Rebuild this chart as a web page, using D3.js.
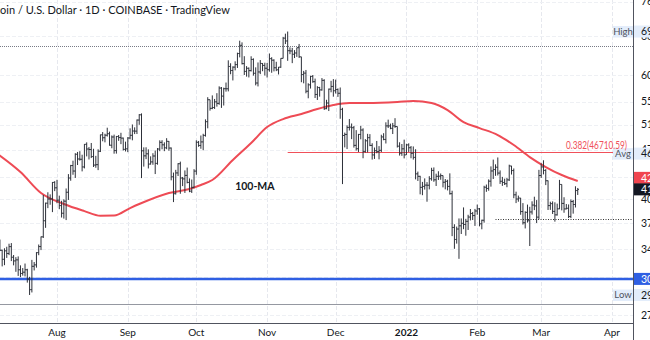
<!DOCTYPE html>
<html><head><meta charset="utf-8">
<script src="https://cdn.jsdelivr.net/npm/d3@7"></script>
<style>html,body{margin:0;padding:0;background:#fff;overflow:hidden}svg{display:block}</style>
</head><body><svg id="c" width="650" height="340"></svg>
<script>
// ---- data (BTC/USD daily, Coinbase) ----
const startDate = "2021-07-07";
const firstOpen = 34230;
const closes = [
33860,32880,33800,33510,34260,33100,32710,32820,31780,31400,31530,31780,30830,29790,32140,32290,33600,34270,35370,37270,39460,40000,40010,42230,41490,
39850,39150,38190,39720,40890,42840,44620,43830,46300,45590,45550,44420,47830,47100,47030,45950,44690,44750,46760,49340,48870,49280,49520,47690,48990,46860,49070,48900,48810,47050,47130,
48830,49260,49960,49940,51780,52680,46830,46060,46370,44840,45160,46040,44940,47100,48140,47750,47290,48300,47250,43010,40700,43560,44890,42840,42720,43210,42230,41040,41550,43820,
48150,47650,48210,49250,51510,55340,53800,53950,54960,54680,57490,56000,57370,57360,61670,60880,61540,62040,64290,66010,62230,60700,61310,60850,63080,60330,58450,60590,62270,61880,61320,
61030,63240,62930,61410,61010,61530,63300,67550,66940,64880,64820,64140,64400,65500,63610,60090,60360,56900,58100,59730,58700,56300,57580,57150,58960,53740,54750,57290,57800,56990,
57230,56520,53630,49230,49400,50550,50600,50500,47670,47150,49400,50120,46740,48390,48880,47660,46200,46850,46700,46900,49000,48600,50800,50800,50400,50800,50700,47540,46460,47130,46210,
47740,47300,46450,45830,43430,43080,41550,41680,41860,41840,42740,43920,42590,43080,43100,43180,42250,42380,41680,40700,36470,35070,36280,36660,36960,36820,37200,37720,38160,37900,38470,
38740,36900,37330,41570,41400,42400,43840,44040,44380,43540,42390,42220,42050,42580,44560,43900,40550,40000,40120,38400,37030,38300,37270,38350,39220,39120,37710,43190,
44420,43920,42460,39150,39400,38420,37990,38740,41950,39430,38730,38810,37790,39670,39290,41120,41280];
const highs = [
35060,33920,34080,34250,34590,34660,33340,33110,33190,32240,31960,32430,31880,31060,32820,32590,33650,34500,35410,40540,39530,40890,40610,42280,42400,
42590,40440,39770,39960,41400,43390,44720,45340,46460,46650,46770,46230,47870,48140,47400,48040,47140,46060,47060,49380,49790,49520,50500,49860,49240,49370,49160,49310,49670,48900,48250,
48970,50400,51040,50560,51880,52790,52920,47360,47370,47050,45990,46460,46870,47250,48460,48480,48140,48800,48350,47340,43610,44000,44970,45200,42990,43920,44330,42790,42630,44100,
48460,48360,49230,49510,51900,55800,55340,56130,55480,56540,57820,57690,57570,58540,62900,62310,61700,62700,64470,67000,66640,63740,61740,61480,63720,63300,61490,62470,62950,62350,62420,
62370,64300,63530,63110,62600,61570,63320,67790,68530,69000,65580,65470,65000,65500,66300,63620,60800,60980,58400,59850,60000,59300,57850,57720,59400,59170,55330,57400,58870,59200,
59100,57420,57600,53900,49700,50900,51950,51200,50790,50100,49490,50800,50400,48660,49500,49450,48000,47330,48360,47550,49350,49600,51400,51850,51180,51300,52100,50700,48150,47880,48570,
47920,47990,47570,47500,47070,43750,43150,42300,42790,42270,43100,44300,44350,43450,43800,43480,43200,42700,42600,43500,41100,36850,36570,37550,37550,38920,37500,38000,38720,38350,38730,
39280,38850,37400,41770,41940,42650,44500,45500,44800,45820,43920,43000,42750,42850,44750,44580,44200,40970,40450,40140,39470,38430,39280,39000,39700,40300,39860,44000,
44950,45400,44100,42500,39650,39690,39570,39400,42580,41950,40230,39350,39300,39940,39870,41700,41470];
const lows = [
33770,32130,32260,33030,33330,32690,32240,31570,31150,31030,31180,31100,30480,29280,29520,31710,32000,33320,33880,35240,36420,38830,39260,38330,41040,
39450,38700,37660,37530,37350,39880,42460,43300,42850,44700,45350,43780,44210,45980,45520,45730,44410,44300,43960,46640,48310,48140,49060,47620,47220,46390,46400,48380,47860,46880,46730,
46620,48620,48460,49460,49470,50980,42830,44470,45570,44200,44770,44740,43400,44750,46770,47060,46770,47070,46840,42520,39600,40590,43120,40690,41720,40800,42100,40900,40800,41420,
43300,47440,47140,46910,49050,50400,53400,53650,53700,54100,54430,53880,54300,56820,56870,60140,58940,60900,61370,63500,62070,60000,59680,59520,60680,59880,58000,57800,60170,60730,59900,
59500,60640,60430,60700,60750,60100,61400,63290,66280,62800,64160,62330,63360,63600,63400,58600,58390,56510,55600,57400,58500,55650,55300,55900,57000,53530,53650,53330,56700,55890,
56470,55850,52000,42000,47350,47100,50040,48650,47320,46870,46650,48620,45700,46550,46580,47540,45500,45600,46450,45540,46640,48470,47960,50450,50250,49470,50470,47330,46100,46060,45680,
46200,46650,45700,45500,42650,42430,40610,40500,41250,39650,41280,42470,42320,41740,42570,42600,41550,41280,41140,40580,35450,34020,34600,32930,35700,36260,35500,36170,37310,37360,36650,
38000,36600,36250,37040,40950,41100,41650,42700,43150,43200,42020,41750,41870,41570,42430,43330,40100,39470,39650,38000,36810,36350,37050,34330,38030,38580,37000,37450,
42850,43350,41860,38600,38610,38100,37160,37900,38700,38550,38250,38670,37600,37590,38140,38910,40530];

// 100-day moving average
const maDates = ["2021-07-05","2021-07-16","2021-07-25","2021-08-04","2021-08-13","2021-08-20","2021-08-26","2021-09-02","2021-09-06","2021-09-19","2021-09-28","2021-10-03","2021-10-08","2021-10-17","2021-10-25","2021-11-01","2021-11-08","2021-11-16","2021-11-23","2021-11-30","2021-12-07","2021-12-15","2021-12-28","2022-01-04","2022-01-12","2022-01-19","2022-01-26","2022-02-02","2022-02-10","2022-02-17","2022-02-24","2022-03-03","2022-03-10","2022-03-17"];
const maValues = [46600,43690,40790,39350,38460,37880,37900,38840,39350,40790,41330,41870,42560,45440,48030,50610,51950,52810,53680,54380,54740,54740,54920,55100,54740,53500,51440,50440,49300,47720,45880,44410,43260,42420];

const monthTicks = ["2021-08-01","2021-09-01","2021-10-01","2021-11-01","2021-12-01","2022-01-01","2022-02-01","2022-03-01","2022-04-01"];
const monthLabels = ["Aug","Sep","Oct","Nov","Dec","2022","Feb","Mar","Apr"];
const priceTicks = [76000,68000,60000,55000,51000,47000,43000,40000,37000,34000,31000,27000];

const highLevel = 69000, lowLevel = 29278, avgLevel = 46400;
const fibLevel = 46710.59, fibLabel = "0.382(46710.59)", fibStart = "2021-11-10";
const topDotted = 65800, supportDotted = 37470, supportStart = "2022-02-09";
const blueLevel = 30850, bottomLevel = 28220;
const titleText = "Bitcoin / U.S. Dollar · 1D · COINBASE · TradingView";
const maLabel = "100-MA", maLabelDate = "2021-10-18", maLabelValue = 41190;

// ---- layout ----
const W = 650, H = 340, plotR = 633, plotB = 323;
const parse = d3.utcParse("%Y-%m-%d");
const days = d3.utcDay.range(parse(startDate), d3.utcDay.offset(parse(startDate), closes.length));
const bars = days.map((d, i) => ({d, o: i ? closes[i-1] : firstOpen, h: highs[i], l: lows[i], c: closes[i]}));

const x = d3.scaleUtc().domain([parse("2021-08-01"), parse("2022-04-01")]).range([57, 612]);
const y = d3.scaleLog().domain([27000, 29278, 40000, 60000, 76000]).range([315, 295, 199, 75, 1.5]);

const svg = d3.select("#c");
const FONT = "Lato, 'Liberation Sans', sans-serif";
svg.append("rect").attr("width", W).attr("height", H).attr("fill", "#fff");
svg.append("defs").append("clipPath").attr("id", "pc").append("rect").attr("x", 0).attr("y", 0).attr("width", plotR).attr("height", plotB);
const plot = svg.append("g").attr("clip-path", "url(#pc)");

// grid
plot.selectAll(".vg").data(monthTicks).join("line")
  .attr("x1", d => Math.round(x(parse(d))) + 0.5).attr("x2", d => Math.round(x(parse(d))) + 0.5)
  .attr("y1", 0).attr("y2", plotB).attr("stroke", "#e6e8ee").attr("stroke-dasharray", "4,2");
plot.selectAll(".hg").data(priceTicks).join("line")
  .attr("x1", 0).attr("x2", plotR).attr("y1", d => Math.round(y(d)) + 0.5).attr("y2", d => Math.round(y(d)) + 0.5)
  .attr("stroke", "#eef0f4").attr("stroke-dasharray", "4,2");

// title
plot.append("text").attr("x", 230).attr("y", 14).attr("text-anchor", "end")
  .attr("font-family", FONT).attr("font-size", 11).attr("fill", "#131722").text(titleText);

// horizontal levels
const hy = v => Math.round(y(v)) + 0.5;
plot.append("line").attr("x1", 0).attr("x2", plotR).attr("y1", hy(topDotted)).attr("y2", hy(topDotted))
  .attr("stroke", "#787b86").attr("stroke-dasharray", "1,1");
plot.append("line").attr("x1", x(parse(supportStart))).attr("x2", plotR).attr("y1", hy(supportDotted)).attr("y2", hy(supportDotted))
  .attr("stroke", "#333").attr("stroke-dasharray", "1,1.5");
plot.append("line").attr("x1", 0).attr("x2", plotR).attr("y1", hy(bottomLevel)).attr("y2", hy(bottomLevel))
  .attr("stroke", "#9598a1");
plot.append("line").attr("x1", x(parse(fibStart))).attr("x2", plotR).attr("y1", hy(fibLevel)).attr("y2", hy(fibLevel))
  .attr("stroke", "#f0505a");
plot.append("line").attr("x1", 0).attr("x2", plotR).attr("y1", y(blueLevel)).attr("y2", y(blueLevel))
  .attr("stroke", "#2f5fe3").attr("stroke-width", 2.5);

// MA line
const maPts = maDates.map((d, i) => [x(parse(d)), y(maValues[i])]);
plot.append("path").attr("d", d3.line().curve(d3.curveMonotoneX)(maPts))
  .attr("fill", "none").attr("stroke", "#ee4b55").attr("stroke-width", 2);
plot.append("text").attr("x", x(parse(maLabelDate))).attr("y", y(maLabelValue)).attr("font-family", FONT)
  .attr("font-weight", "bold").attr("font-size", 10.5).attr("fill", "#131722").text(maLabel);

// OHLC bars
const path = d3.path();
bars.forEach(b => {
  const cx = x(b.d);
  path.moveTo(cx, y(b.h)); path.lineTo(cx, y(b.l));
  path.moveTo(cx - 1.2, y(b.o)); path.lineTo(cx, y(b.o));
  path.moveTo(cx, y(b.c)); path.lineTo(cx + 1.2, y(b.c));
});
plot.append("path").attr("d", path.toString()).attr("fill", "none").attr("stroke", "#2d3039").attr("stroke-width", 1);

// axes lines
svg.append("line").attr("x1", plotR + 0.5).attr("x2", plotR + 0.5).attr("y1", 0).attr("y2", H).attr("stroke", "#50535e");
svg.append("line").attr("x1", 0).attr("x2", plotR).attr("y1", plotB + 0.5).attr("y2", plotB + 0.5).attr("stroke", "#50535e");

// right axis tick labels
svg.selectAll(".yt").data(priceTicks).join("text")
  .attr("x", 641).attr("y", d => y(d)).attr("dy", "0.35em")
  .attr("font-family", FONT).attr("font-size", 10.5).attr("fill", "#131722").text(d => d);

// bottom axis labels
svg.selectAll(".xt").data(monthTicks).join("text")
  .attr("x", d => x(parse(d))).attr("y", 336).attr("text-anchor", "middle")
  .attr("font-family", FONT).attr("font-size", 10).attr("fill", "#131722")
  .attr("font-weight", (d, i) => monthLabels[i] === "2022" ? "bold" : "normal")
  .text((d, i) => monthLabels[i]);

// badges
function badge(cy, txt, bg, fg, tag) {
  const g = svg.append("g");
  if (tag) {
    g.append("rect").attr("x", 613).attr("y", cy - 5.5).attr("width", 20).attr("height", 11.5).attr("fill", "#e3edfb");
    g.append("text").attr("x", 623).attr("y", cy).attr("dy", "0.35em").attr("text-anchor", "middle")
      .attr("font-family", FONT).attr("font-size", 9.5).attr("fill", "#50535e").text(tag);
  }
  g.append("rect").attr("x", 634).attr("y", cy - 6).attr("width", 20).attr("height", 12).attr("fill", bg);
  g.append("text").attr("x", 641).attr("y", cy).attr("dy", "0.35em")
    .attr("font-family", FONT).attr("font-size", 10.5).attr("fill", fg).text(txt);
}
const lastClose = closes[closes.length - 1], lastMA = maValues[maValues.length - 1];
const lastY = y(lastClose);
let maY = y(lastMA);
if (lastY - maY < 11.5) maY = lastY - 11.5;
badge(y(highLevel), highLevel, "#e3edfb", "#131722", "High");
badge(y(avgLevel), avgLevel, "#e3edfb", "#131722", "Avg");
badge(maY, lastMA, "#f0454f", "#fff");
badge(lastY, lastClose, "#131722", "#fff");
badge(y(blueLevel), blueLevel, "#2f5fe3", "#fff");
badge(y(lowLevel), lowLevel, "#e3edfb", "#131722", "Low");

// fib label drawn on top
svg.append("text").attr("x", 566).attr("y", y(fibLevel) - 3)
  .attr("textLength", 61).attr("lengthAdjust", "spacingAndGlyphs")
  .attr("font-family", FONT).attr("font-size", 10.5).attr("fill", "#f0505a").text(fibLabel);
</script></body></html>
